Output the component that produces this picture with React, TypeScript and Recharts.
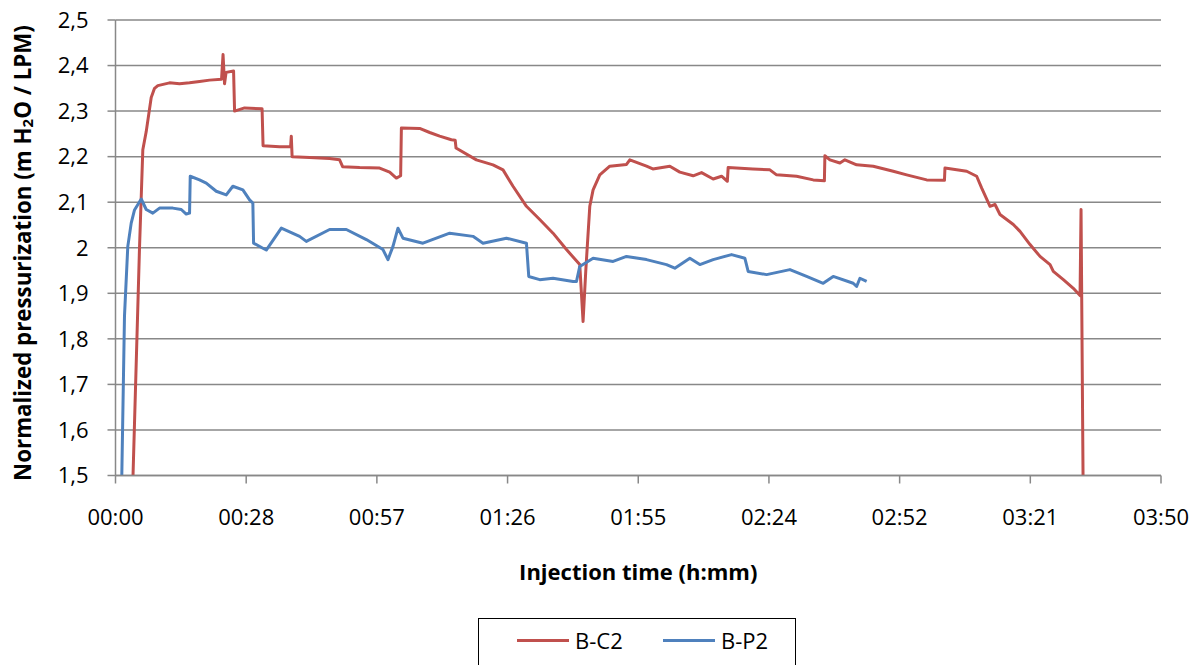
import React from 'react';
import { LineChart, Line, XAxis, YAxis, CartesianGrid } from 'recharts';

// Injection time in minutes
const bc2Time = [3.86, 5.29, 6.02, 6.77, 7.87, 8.6, 9.33, 11.91, 14.11, 16.32, 18.52, 20.73, 23.37, 23.7, 24.03, 24.37, 26.02, 26.24, 28.44, 32.3, 32.52, 36.16, 38.59, 38.74, 38.92, 42.78, 47.19, 49.39, 50.05, 53.8, 58.21, 60.42, 61.89, 62.84, 63.0, 67.03, 69.24, 71.44, 74.02, 74.86, 75.04, 79.53, 83.19, 85.4, 87.6, 90.56, 93.49, 96.42, 99.38, 102.31, 103.04, 103.64, 104.52, 105.25, 106.72, 108.93, 112.61, 113.34, 117.02, 118.41, 122.16, 124.36, 127.3, 129.15, 131.71, 133.56, 134.84, 135.01, 140.46, 144.21, 145.68, 150.09, 153.76, 156.22, 156.33, 157.44, 159.64, 160.74, 163.32, 166.99, 171.4, 174.35, 178.76, 182.68, 182.79, 187.58, 189.78, 190.89, 192.72, 193.82, 194.92, 197.86, 199.33, 201.54, 203.74, 205.95, 206.67, 208.88, 211.08, 212.56, 212.78, 213.22];
const bc2Value = [1.5, 2.0, 2.215, 2.255, 2.33, 2.35, 2.356, 2.362, 2.36, 2.362, 2.365, 2.368, 2.37, 2.424, 2.36, 2.385, 2.388, 2.3, 2.307, 2.305, 2.224, 2.222, 2.222, 2.245, 2.2, 2.198, 2.196, 2.193, 2.178, 2.176, 2.175, 2.166, 2.153, 2.158, 2.263, 2.262, 2.253, 2.245, 2.237, 2.236, 2.219, 2.193, 2.182, 2.171, 2.135, 2.091, 2.062, 2.032, 1.996, 1.963, 1.838, 1.95, 2.091, 2.127, 2.16, 2.179, 2.183, 2.193, 2.179, 2.173, 2.179, 2.166, 2.158, 2.165, 2.151, 2.157, 2.146, 2.176, 2.173, 2.171, 2.16, 2.157, 2.149, 2.147, 2.202, 2.193, 2.186, 2.193, 2.182, 2.179, 2.168, 2.16, 2.149, 2.148, 2.175, 2.168, 2.157, 2.131, 2.091, 2.095, 2.073, 2.051, 2.036, 2.007, 1.981, 1.963, 1.948, 1.93, 1.911, 1.895, 2.084, 1.5];

const bp2Time = [1.39, 1.98, 2.71, 3.46, 4.19, 5.67, 6.77, 8.22, 9.7, 12.63, 14.49, 15.59, 16.32, 16.47, 18.52, 20.0, 22.2, 24.41, 25.86, 28.07, 29.55, 30.27, 30.43, 32.48, 33.23, 36.54, 40.57, 42.05, 47.19, 50.87, 55.28, 58.94, 60.04, 61.15, 62.25, 63.35, 67.76, 73.65, 78.78, 80.99, 86.15, 90.56, 91.07, 93.49, 96.42, 100.84, 101.58, 102.31, 105.25, 109.66, 112.61, 117.02, 121.43, 123.26, 126.57, 128.77, 131.71, 135.76, 138.69, 139.42, 143.48, 148.62, 152.3, 155.96, 158.16, 162.57, 163.32, 164.05, 165.53];
const bp2Value = [1.5, 1.85, 2.003, 2.054, 2.083, 2.107, 2.084, 2.076, 2.087, 2.087, 2.084, 2.074, 2.076, 2.157, 2.149, 2.142, 2.124, 2.116, 2.135, 2.127, 2.105, 2.098, 2.01, 1.999, 1.995, 2.043, 2.025, 2.014, 2.04, 2.04, 2.018, 1.996, 1.974, 2.003, 2.043, 2.021, 2.01, 2.032, 2.025, 2.01, 2.021, 2.01, 1.937, 1.93, 1.933, 1.926, 1.926, 1.959, 1.977, 1.97, 1.981, 1.974, 1.963, 1.955, 1.977, 1.963, 1.974, 1.985, 1.977, 1.948, 1.941, 1.952, 1.937, 1.922, 1.937, 1.922, 1.915, 1.933, 1.926];

const xTicks = [0, 28.8, 57.6, 86.4, 115.2, 144, 172.8, 201.6, 230.4];
const yTicks = [1.5, 1.6, 1.7, 1.8, 1.9, 2.0, 2.1, 2.2, 2.3, 2.4, 2.5];

const seriesNames = ['B-C2', 'B-P2'];
const seriesColors = ['#C0504D', '#4F81BD'];

const bc2Data = bc2Time.map((t, i) => ({ t, v: bc2Value[i] }));
const bp2Data = bp2Time.map((t, i) => ({ t, v: bp2Value[i] }));

const FONT = '"Open Sans", sans-serif';
const GRID = '#888888';

const fmtTime = (m: number) => {
  const total = Math.floor(m + 1e-6);
  const h = Math.floor(total / 60);
  const mm = total % 60;
  return `${String(h).padStart(2, '0')}:${String(mm).padStart(2, '0')}`;
};
const fmtVal = (v: number) => String(Math.round(v * 10) / 10).replace('.', ',');

const YTitle = () => (
  <text
    x={22}
    y={253}
    transform="rotate(-90, 22, 253)"
    textAnchor="middle"
    dominantBaseline="central"
    fontFamily={FONT}
    fontWeight="bold"
    fontSize={22.3}
    fill="#000"
  >
    <tspan>Normalized pressurization (m H</tspan>
    <tspan dy={5} fontSize={15}>2</tspan>
    <tspan dy={-5}>O / LPM)</tspan>
  </text>
);

export default function App() {
  return (
    <div style={{ position: 'absolute', left: 0, top: 0, width: 1198, height: 665, overflow: 'hidden', background: '#fff' }}>
      <LineChart width={1198} height={665} margin={{ top: 20, right: 37, left: 0, bottom: 0 }}>
        <CartesianGrid horizontal vertical={false} stroke={GRID} strokeWidth={1.5} />
        <XAxis
          type="number"
          dataKey="t"
          domain={[0, 230.4]}
          ticks={xTicks}
          tickFormatter={fmtTime}
          height={189.5}
          tickSize={8}
          tickMargin={26}
          stroke={GRID}
          strokeWidth={1.5}
          tick={{ fill: '#000', fontFamily: FONT, fontSize: 22 }}
          allowDataOverflow
          label={{
            value: 'Injection time (h:mm)',
            position: 'insideBottom',
            offset: 85,
            style: { fontFamily: FONT, fontWeight: 'bold', fontSize: 22, fill: '#000' },
          }}
        />
        <YAxis
          type="number"
          domain={[1.5, 2.5]}
          ticks={yTicks}
          tickFormatter={fmtVal}
          width={115.5}
          tickSize={8}
          tickMargin={19}
          stroke={GRID}
          strokeWidth={1.5}
          tick={{ fill: '#000', fontFamily: FONT, fontSize: 22 }}
          allowDataOverflow
          label={{ content: () => <YTitle /> }}
        />
        <Line
          data={bc2Data}
          dataKey="v"
          name={seriesNames[0]}
          type="linear"
          stroke={seriesColors[0]}
          strokeWidth={3}
          strokeLinejoin="round"
          dot={false}
          isAnimationActive={false}
        />
        <Line
          data={bp2Data}
          dataKey="v"
          name={seriesNames[1]}
          type="linear"
          stroke={seriesColors[1]}
          strokeWidth={3}
          strokeLinejoin="round"
          dot={false}
          isAnimationActive={false}
        />
      </LineChart>
      <div
        style={{
          position: 'absolute',
          left: 478,
          top: 618,
          width: 318,
          height: 60,
          borderTop: '1.5px solid #000',
          borderLeft: '1.5px solid #000',
          borderRight: '1.5px solid #000',
          boxSizing: 'border-box',
          fontFamily: FONT,
          fontSize: 22,
          color: '#000',
        }}
      >
        {seriesNames.map((n, i) => (
          <div
            key={n}
            style={{ position: 'absolute', left: i === 0 ? 38 : 184, top: 6, display: 'flex', alignItems: 'center', height: 30 }}
          >
            <div style={{ width: 52, height: 3, background: seriesColors[i], marginRight: 6 }} />
            <span style={{ lineHeight: '30px' }}>{n}</span>
          </div>
        ))}
      </div>
    </div>
  );
}
